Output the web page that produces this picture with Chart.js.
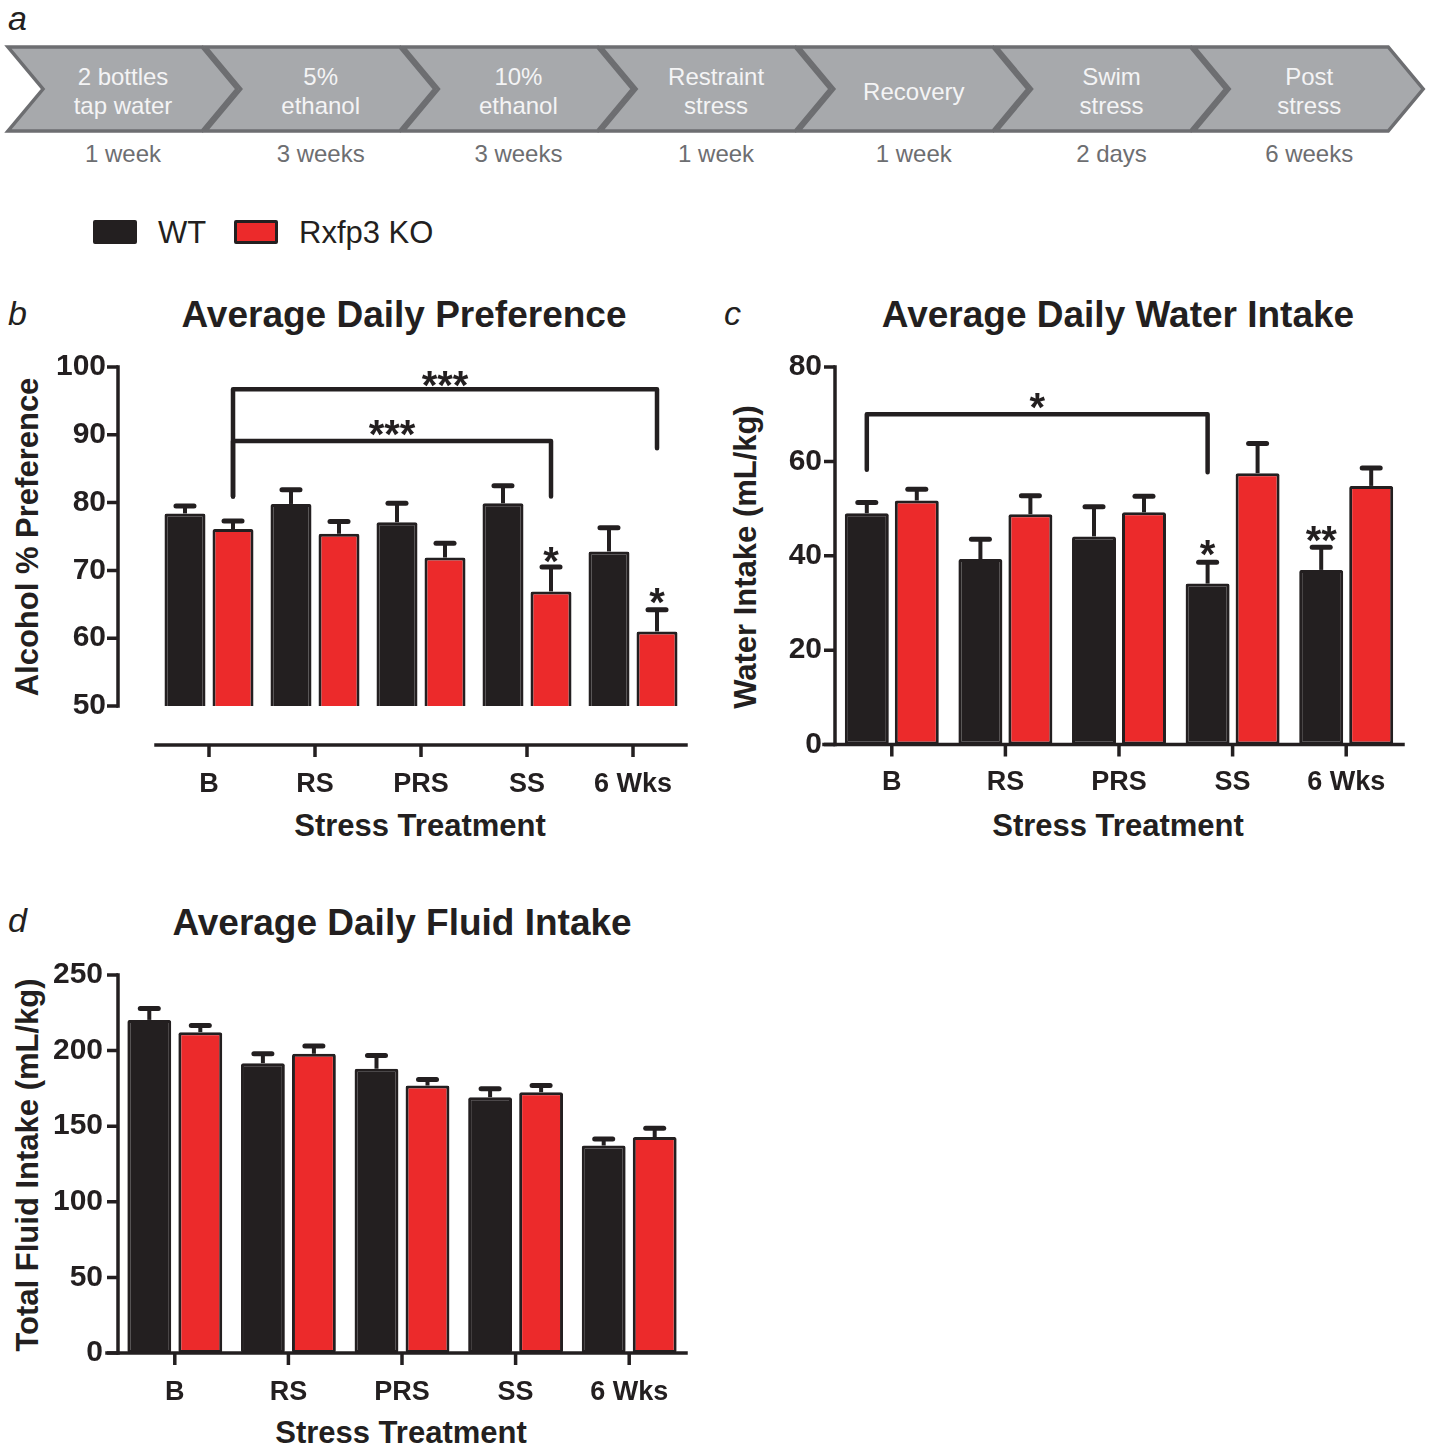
<!DOCTYPE html>
<html><head><meta charset="utf-8">
<script src="https://cdn.jsdelivr.net/npm/chart.js@4.4.1/dist/chart.umd.min.js"></script>
<style>
html,body{margin:0;padding:0;background:#fff}
body{width:1429px;height:1448px;position:relative;overflow:hidden;font-family:"Liberation Sans",Arial,Helvetica,sans-serif;color:#231f20}
canvas{position:absolute;left:0;top:0}
.t{position:absolute;white-space:nowrap;line-height:1;transform:translate(-50%,-50%)}
.l{position:absolute;white-space:nowrap;line-height:1;transform:translate(0,-50%)}
.r{transform:translate(-50%,-50%) rotate(-90deg)}
.ttl{font-weight:bold;font-size:37px}
.ax{font-weight:bold;font-size:31px}
.let{font-style:italic;font-size:34px}
.sw{position:absolute;box-sizing:border-box;border:3px solid #231f20;border-radius:2px}
</style></head><body>

<svg id="tl" width="1429" height="180" style="position:absolute;left:0;top:0"></svg>

<div class="l let" style="left:8px;top:18px">a</div>
<div class="l let" style="left:8px;top:313px">b</div>
<div class="l let" style="left:724px;top:313px">c</div>
<div class="l let" style="left:8px;top:920px">d</div>

<div id="legend"></div>

<div class="t ttl" style="left:404px;top:314px">Average Daily Preference</div>
<div class="t ttl" style="left:1118px;top:314px">Average Daily Water Intake</div>
<div class="t ttl" style="left:402px;top:922px">Average Daily Fluid Intake</div>

<div class="t ax r" style="left:27px;top:537px">Alcohol % Preference</div>
<div class="t ax r" style="left:745px;top:557px">Water Intake (mL/kg)</div>
<div class="t ax r" style="left:27px;top:1165px">Total Fluid Intake (mL/kg)</div>

<div class="t ax" style="left:420px;top:825px">Stress Treatment</div>
<div class="t ax" style="left:1118px;top:825px">Stress Treatment</div>
<div class="t ax" style="left:401px;top:1432px">Stress Treatment</div>

<canvas id="cb" width="1429" height="1448"></canvas>
<canvas id="cc" width="1429" height="1448"></canvas>
<canvas id="cd" width="1429" height="1448"></canvas>

<script>
// ---------------- DATA ----------------
const stages = [['2 bottles','tap water'],['5%','ethanol'],['10%','ethanol'],['Restraint','stress'],['Recovery'],['Swim','stress'],['Post','stress']];
const durations = ['1 week','3 weeks','3 weeks','1 week','1 week','2 days','6 weeks'];

const seriesNames = ['WT','Rxfp3 KO'];
const categories = ['B','RS','PRS','SS','6 Wks'];

// b: Average Daily Preference (Alcohol % Preference)
const prefWT    = [78.4, 79.8, 77.1, 79.9, 72.8];
const prefWTsem = [1.1, 2.1, 2.8, 2.6, 3.5];
const prefKO    = [76.1, 75.4, 71.9, 66.9, 61.0];
const prefKOsem = [1.2, 1.8, 2.1, 3.6, 3.2];
const prefTicks = [50, 60, 70, 80, 90, 100];

// c: Average Daily Water Intake (mL/kg)
const waterWT    = [49.0, 39.3, 44.1, 34.1, 37.0];
const waterWTsem = [2.3, 4.2, 6.3, 4.5, 4.8];
const waterKO    = [51.7, 48.8, 49.2, 57.5, 54.8];
const waterKOsem = [2.4, 3.9, 3.4, 6.3, 3.8];
const waterTicks = [0, 20, 40, 60, 80];

// d: Average Daily Fluid Intake (mL/kg)
const fluidWT    = [220.3, 191.7, 188.0, 169.2, 137.2];
const fluidWTsem = [7.5, 6.2, 8.8, 5.5, 4.4];
const fluidKO    = [212.2, 197.9, 176.9, 172.5, 142.8];
const fluidKOsem = [4.4, 5.1, 4.0, 4.4, 5.9];
const fluidTicks = [0, 50, 100, 150, 200, 250];

// significance annotations: [dataset, category] anchors, values in axis units
const prefBrackets = [
  {a:[1,0], b:[1,4], y:96.7, ya:80.9, yb:88.0, text:'***', ty:98.6},
  {a:[1,0], b:[1,3], y:89.1, ya:80.9, yb:80.9, text:'***', ty:91.4}
];
const prefStars = [{ds:1, i:3, y:72.7, text:'*'}, {ds:1, i:4, y:66.7, text:'*'}];
const waterBrackets = [{a:[0,0], b:[0,3], y:70.0, ya:58.2, yb:57.7, text:'*', ty:73.4}];
const waterStars = [{ds:0, i:3, y:42.3, text:'*'}, {ds:0, i:4, y:45.2, text:'**'}];

// ---------------- STYLE ----------------
const INK = '#231f20', RED = '#ec2a2b';
const W = 1429, H = 1448;
const FONT = '"Liberation Sans", Arial, Helvetica, sans-serif';

// ---------------- TIMELINE (panel a) ----------------
(function(){
  const svg = document.getElementById('tl');
  let html = '';
  stages.forEach((lines, i) => {
    const x0 = 8 + i * 197.7;
    const pts = [[x0,47],[x0+194,47],[x0+229,89],[x0+194,131],[x0,131],[x0+35,89]].map(p=>p.join(',')).join(' ');
    html += `<polygon points="${pts}" fill="#a7a9ac" stroke="#6d6e71" stroke-width="3.5" stroke-linejoin="miter"/>`;
    const cx = x0 + 115;
    const ys = lines.length === 2 ? [76, 105] : [91];
    lines.forEach((s, k) => {
      html += `<text x="${cx}" y="${ys[k]}" text-anchor="middle" dominant-baseline="central" font-family='${FONT}' font-size="24" fill="#f4f4f5">${s}</text>`;
    });
    html += `<text x="${cx}" y="153" text-anchor="middle" dominant-baseline="central" font-family='${FONT}' font-size="24" fill="#6d6e71">${durations[i]}</text>`;
  });
  svg.innerHTML = html;
})();

// ---------------- LEGEND ----------------
(function(){
  const lg = document.getElementById('legend');
  const fills = [INK, RED];
  const sx = [93, 234], tx = [158, 299];
  seriesNames.forEach((n, i) => {
    const s = document.createElement('div');
    s.className = 'sw';
    s.style.cssText = `left:${sx[i]}px;top:220px;width:44px;height:24px;background:${fills[i]}`;
    lg.appendChild(s);
    const t = document.createElement('div');
    t.className = 'l';
    t.style.cssText = `left:${tx[i]}px;top:232px;font-size:31px`;
    t.textContent = n;
    lg.appendChild(t);
  });
})();

// ---------------- CHART PLUGIN: Prism-style axes, error bars, annotations ----------------
const prismPlugin = {
  id: 'prism',
  afterDatasetsDraw(chart, args, o) {
    const ctx = chart.ctx, xs = chart.scales.x, ys = chart.scales.y, a = chart.chartArea;
    ctx.save();
    ctx.strokeStyle = INK; ctx.fillStyle = INK;
    // error bars (upper SEM)
    o.sems.forEach((sem, di) => {
      const meta = chart.getDatasetMeta(di);
      meta.data.forEach((el, i) => {
        const v = chart.data.datasets[di].data[i];
        const yc = ys.getPixelForValue(v + sem[i]);
        ctx.lineCap = 'butt'; ctx.lineWidth = 4;
        ctx.beginPath(); ctx.moveTo(el.x, el.y); ctx.lineTo(el.x, yc); ctx.stroke();
        ctx.lineCap = 'round'; ctx.lineWidth = 5;
        ctx.beginPath(); ctx.moveTo(el.x - 9, yc); ctx.lineTo(el.x + 9, yc); ctx.stroke();
      });
    });
    // axes
    const axX = a.left - o.yOff;
    const axY = a.bottom + o.xOff;
    ctx.lineWidth = 3.5; ctx.lineCap = 'square';
    ctx.beginPath();
    ctx.moveTo(axX, ys.getPixelForValue(ys.max)); ctx.lineTo(axX, ys.getPixelForValue(ys.min));
    ctx.stroke();
    ctx.lineCap = 'butt';
    ctx.beginPath();
    ys.ticks.forEach(t => { const p = ys.getPixelForValue(t.value); ctx.moveTo(axX - 11, p); ctx.lineTo(axX, p); });
    ctx.stroke();
    ctx.lineCap = 'square';
    ctx.beginPath();
    ctx.moveTo(o.xOff > 0 ? a.left : axX - 11, axY); ctx.lineTo(a.right, axY);
    ctx.stroke();
    ctx.lineCap = 'butt';
    ctx.beginPath();
    xs.ticks.forEach((t, i) => { const p = xs.getPixelForTick(i); ctx.moveTo(p, axY); ctx.lineTo(p, axY + 12); });
    ctx.stroke();
    // brackets
    const barX = (ds, i) => chart.getDatasetMeta(ds).data[i].x;
    ctx.lineWidth = 4.5; ctx.lineCap = 'round'; ctx.lineJoin = 'round';
    ctx.textAlign = 'center'; ctx.textBaseline = 'alphabetic';
    ctx.font = 'bold 40px ' + FONT;
    (o.brackets || []).forEach(b => {
      const x1 = barX(b.a[0], b.a[1]), x2 = barX(b.b[0], b.b[1]);
      const yb = ys.getPixelForValue(b.y);
      ctx.beginPath();
      ctx.moveTo(x1, ys.getPixelForValue(b.ya)); ctx.lineTo(x1, yb); ctx.lineTo(x2, yb); ctx.lineTo(x2, ys.getPixelForValue(b.yb));
      ctx.stroke();
      ctx.fillText(b.text, (x1 + x2) / 2, ys.getPixelForValue(b.ty) + 23);
    });
    (o.stars || []).forEach(s => {
      ctx.fillText(s.text, barX(s.ds, s.i), ys.getPixelForValue(s.y) + 23);
    });
    ctx.restore();
  }
};

function makeChart(id, spec) {
  return new Chart(document.getElementById(id), {
    type: 'bar',
    data: {
      labels: categories,
      datasets: [
        {label: seriesNames[0], data: spec.wt, backgroundColor: INK, borderColor: INK, borderWidth: 3, borderRadius: 2, borderSkipped: false,
         categoryPercentage: spec.cp, barPercentage: spec.bp},
        {label: seriesNames[1], data: spec.ko, backgroundColor: RED, borderColor: INK, borderWidth: 3, borderRadius: 2, borderSkipped: false,
         categoryPercentage: spec.cp, barPercentage: spec.bp}
      ]
    },
    options: {
      responsive: false, animation: false, devicePixelRatio: 1,
      layout: {padding: {left: 0, right: W - spec.area.r, top: spec.area.t, bottom: 0}},
      plugins: {
        legend: {display: false}, tooltip: {enabled: false}, title: {display: false},
        prism: {sems: [spec.wtSem, spec.koSem], yOff: spec.yOff, xOff: spec.xOff, brackets: spec.brackets, stars: spec.stars}
      },
      scales: {
        x: {
          grid: {display: false}, border: {display: false},
          ticks: {color: INK, font: {family: FONT, size: 27, weight: 'bold'}, padding: spec.xPad, maxRotation: 0, autoSkip: false},
          afterFit: s => { s.height = H - spec.area.b; }
        },
        y: {
          min: spec.ticks[0], max: spec.ticks[spec.ticks.length - 1],
          grid: {display: false}, border: {display: false},
          ticks: {color: INK, font: {family: FONT, size: 30, weight: 'bold'}, padding: spec.yPad},
          afterBuildTicks: s => { s.ticks = spec.ticks.map(v => ({value: v})); },
          afterFit: s => { s.width = spec.area.l; }
        }
      }
    },
    plugins: [prismPlugin]
  });
}

makeChart('cb', {wt: prefWT, wtSem: prefWTsem, ko: prefKO, koSem: prefKOsem, ticks: prefTicks,
  area: {l: 156, r: 686, t: 367, b: 706}, yOff: 38, xOff: 39, cp: 0.906, bp: 0.854, xPad: 54, yPad: 42,
  brackets: prefBrackets, stars: prefStars});
makeChart('cc', {wt: waterWT, wtSem: waterWTsem, ko: waterKO, koSem: waterKOsem, ticks: waterTicks,
  area: {l: 835, r: 1403, t: 367, b: 744.5}, yOff: 0, xOff: 0, cp: 0.88, bp: 0.88, xPad: 14, yPad: 5,
  brackets: waterBrackets, stars: waterStars});
makeChart('cd', {wt: fluidWT, wtSem: fluidWTsem, ko: fluidKO, koSem: fluidKOsem, ticks: fluidTicks,
  area: {l: 118, r: 686, t: 975, b: 1353}, yOff: 0, xOff: 0, cp: 0.898, bp: 0.86, xPad: 15, yPad: 7});
</script>
</body></html>
